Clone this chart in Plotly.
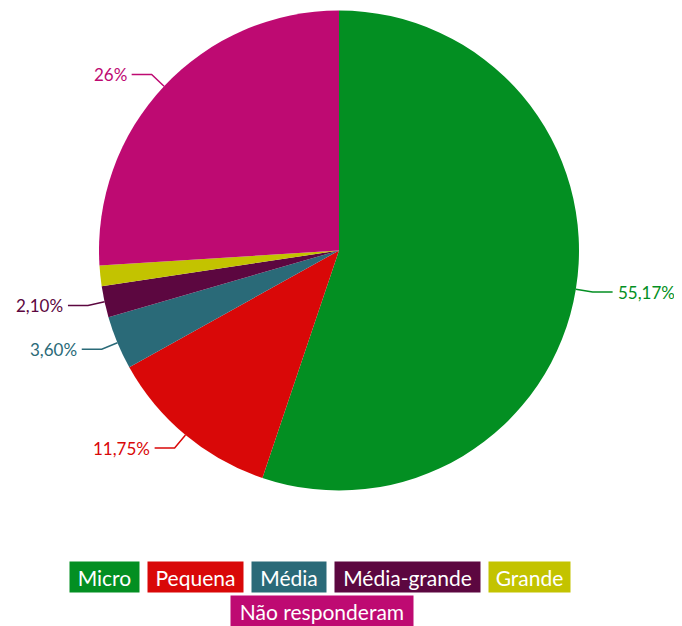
import math
import plotly.graph_objects as go

categories = ["Micro", "Pequena", "Média", "Média-grande", "Grande", "Não responderam"]
values = [55.17, 11.75, 3.60, 2.10, 1.38, 26.0]
value_labels = ["55,17%", "11,75%", "3,60%", "2,10%", "", "26%"]
colors = ["#038f22", "#d90808", "#2a6a78", "#5c0740", "#c3c300", "#be0a72"]

# the page body adds an 8px margin, so work in window pixels minus that
OFF = 8
W, H = 682 - OFF, 626 - OFF
CX, CY, R = 339 - OFF, 250.5 - OFF, 240
FONT = "Lato"


def px(x):
    return x / W


def py(y):
    return 1 - y / H


fig = go.Figure()
fig.add_trace(go.Pie(
    labels=categories,
    values=values,
    marker=dict(colors=colors, line=dict(width=0)),
    sort=False,
    direction="clockwise",
    rotation=0,
    textinfo="none",
    hoverinfo="label+percent",
    showlegend=False,
    domain=dict(x=[px(CX - R), px(CX + R)], y=[py(CY + R), py(CY - R)]),
))

# data labels with connector lines
total = sum(values)
cum = 0
shapes = []
annotations = []
for v, lab, c in zip(values, value_labels, colors):
    mid = (cum + v / 2) / total * 2 * math.pi
    cum += v
    if not lab:
        continue
    s, co = math.sin(mid), math.cos(mid)
    x0, y0 = CX + R * s, CY - R * co
    x1, y1 = CX + (R + 17) * s, CY - (R + 17) * co
    side = 1 if s >= 0 else -1
    x2 = x1 + side * 20
    path = "M {} {} L {} {} L {} {}".format(px(x0), py(y0), px(x1), py(y1), px(x2), py(y1))
    shapes.append(dict(type="path", xref="paper", yref="paper", path=path,
                       line=dict(color=c, width=1.5)))
    annotations.append(dict(
        x=px(x2 + side * 3), y=py(y1), xref="paper", yref="paper",
        text=lab, showarrow=False,
        xanchor="left" if side > 0 else "right", yanchor="middle",
        font=dict(family=FONT, size=17, color=c),
    ))

# legend boxes (centre x, centre y, width) in window pixels
legend_pos = [(104.5, 577, 71), (195.5, 577, 97), (289, 577, 76),
              (407.5, 577, 147), (529.5, 577, 83), (322, 611, 184)]
for name, c, (lx, ly, lw) in zip(categories, colors, legend_pos):
    annotations.append(dict(
        x=px(lx - OFF), y=py(ly - OFF), xref="paper", yref="paper",
        text=name, showarrow=False, xanchor="center", yanchor="middle",
        bgcolor=c, width=lw - 2, height=30, borderpad=0,
        font=dict(family=FONT, size=21, color="white"),
    ))

fig.update_layout(
    width=W, height=H,
    margin=dict(l=0, r=0, t=0, b=0),
    paper_bgcolor="white",
    shapes=shapes,
    annotations=annotations,
)

fig.write_html("out.html")
